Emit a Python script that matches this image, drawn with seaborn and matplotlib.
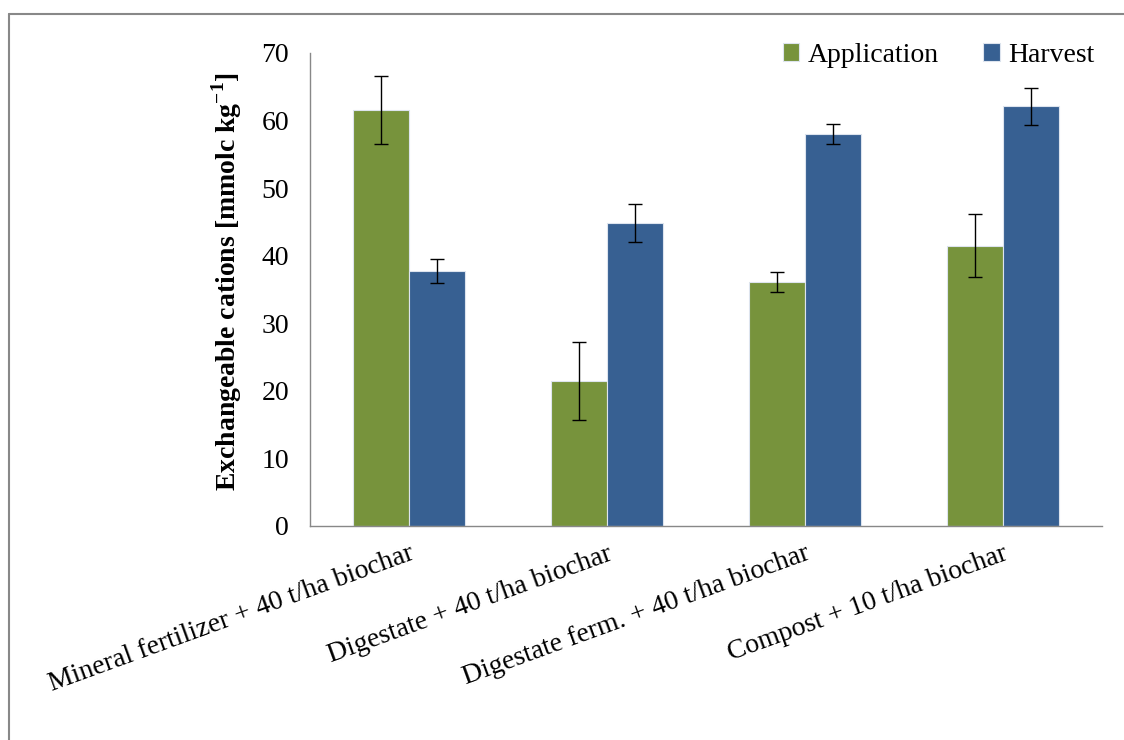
import matplotlib
matplotlib.use('Agg')
import matplotlib.pyplot as plt
import seaborn as sns
import pandas as pd
from matplotlib.lines import Line2D

# data
treatments = ['Mineral fertilizer + 40 t/ha biochar', 'Digestate + 40 t/ha biochar',
              'Digestate ferm. + 40 t/ha biochar', 'Compost + 10 t/ha biochar']
application = [61.6, 21.5, 36.1, 41.5]
application_err = [5.0, 5.8, 1.5, 4.6]
harvest = [37.7, 44.8, 58.0, 62.1]
harvest_err = [1.8, 2.8, 1.5, 2.7]

df = pd.DataFrame({
    'treatment': treatments * 2,
    'time': ['Application'] * 4 + ['Harvest'] * 4,
    'value': application + harvest,
})
errs = {'Application': application_err, 'Harvest': harvest_err}

sns.set_style('white')
plt.rcParams['font.family'] = ['Liberation Serif', 'DejaVu Serif']
plt.rcParams['text.color'] = 'black'
plt.rcParams['axes.labelcolor'] = 'black'
plt.rcParams['xtick.color'] = 'black'
plt.rcParams['ytick.color'] = 'black'
plt.rcParams['mathtext.fontset'] = 'custom'
plt.rcParams['mathtext.rm'] = 'Liberation Serif'
plt.rcParams['mathtext.bf'] = 'Liberation Serif:bold'

fs = 20

fig = plt.figure(figsize=(11.24, 7.4), dpi=100)
ax = fig.add_axes([0.2758, 0.2892, 0.7046, 0.6392])

palette = {'Application': '#77933c', 'Harvest': '#376092'}
sns.barplot(data=df, x='treatment', y='value', hue='time', palette=palette,
            width=0.57, gap=0, saturation=1, ax=ax, errorbar=None,
            edgecolor='#dde4ee', linewidth=0.8)

for cont, level in zip(ax.containers, ['Application', 'Harvest']):
    for bar, e in zip(cont, errs[level]):
        ax.errorbar(bar.get_x() + bar.get_width() / 2, bar.get_height(), yerr=e,
                    fmt='none', ecolor='black', elinewidth=1.0, capsize=5, capthick=1.0)

ax.set_ylim(0, 70)
ax.set_xlim(-0.5, len(treatments) - 0.5)
ax.set_yticks(range(0, 71, 10))
ax.set_ylabel('Exchangeable cations [mmolc kg$^{\\mathbf{-1}}$]', fontsize=fs,
              fontweight='bold')
ax.yaxis.set_label_coords(-0.083, 0.516)
ax.set_xlabel('')

ax.set_xticks([i + 0.5 for i in range(-1, len(treatments))], minor=False)
ax.set_xticklabels([])
ax.set_xticks(range(len(treatments)), minor=True)
ax.set_xticklabels(treatments, minor=True, rotation=20, ha='right', va='top',
                   rotation_mode='anchor', fontsize=fs)
ax.tick_params(axis='x', which='minor', length=0, pad=11)
ax.tick_params(axis='x', which='major', direction='out', length=7, color='#888888', width=1)
ax.tick_params(axis='y', direction='out', length=7, color='#888888', width=1,
               labelsize=fs, pad=8)

for s in ['top', 'right']:
    ax.spines[s].set_visible(False)
for s in ['left', 'bottom']:
    ax.spines[s].set_color('#888888')
    ax.spines[s].set_linewidth(1)

ax.legend(loc='upper right', bbox_to_anchor=(1.022, 1.075), ncol=2, frameon=False,
          fontsize=fs, handlelength=0.6, handleheight=0.6, handletextpad=0.3,
          columnspacing=1.6, title=None)

# outer frame like the pasted chart area
fig.add_artist(Line2D([9 / 1124, 9 / 1124], [0, 1 - 14 / 740], color='#888888', lw=1.5))
fig.add_artist(Line2D([9 / 1124, 1], [1 - 14 / 740, 1 - 14 / 740], color='#888888', lw=1.5))

fig.savefig('out.png', dpi=100)
plt.close()
